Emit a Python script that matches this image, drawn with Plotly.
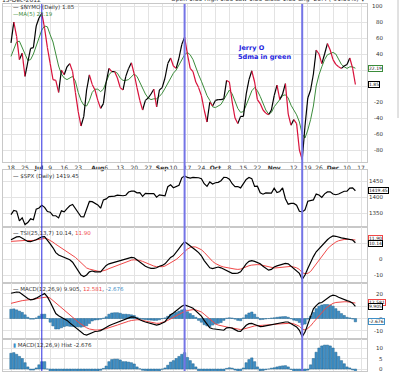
import plotly.graph_objects as go
import pandas as pd

# ---------------- data ----------------
holidays = ["2012-07-04", "2012-09-03", "2012-10-29", "2012-10-30", "2012-11-22"]
days = [d.strftime("%Y-%m-%d") for d in pd.bdate_range("2012-06-18", "2012-12-17")
        if d.strftime("%Y-%m-%d") not in holidays]

nymo = [54, 80, 62, 33, 41, 12, 30, 47, 48, 75, 85, 91, 72, 48, 28, 8, 7, -8, 20, 14,
        24, 28, 18, -8, -32, -50, -38, -5, 14, 2, -5, -18, -28, -22, 5, 22, 18, 18, 10, -2,
        -5, 12, 22, 29, 15, -2, -18, -30, -18, -15, -10, -4, -26, -5, -2, 10, 28, 35, 25, 22,
        35, 52, 61, 40, 22, 18, 5, -2, -12, -30, -45, -20, -25, -18, -17, -17, -16, 7, 5, -20,
        -40, -47, -38, -38, -10, 8, 19, 5, -17, -22, -30, -34, -36, -30, -12, 1, -17, -10, 3, -35,
        -49, -42, -47, -80, -92, -50, -15, -5, 15, 45, 40, 28, 40, 53, 45, 33, 27, 24, 22, 25,
        27, 35, 22.25, 1.85]
nymo_ma5 = [37, 45, 55, 56, 48, 38, 32, 33, 40, 50, 60, 70, 75, 74, 64, 55, 40, 25, 15, 10,
            8, 10, 12, 6, -8, -18, -24, -25, -18, -8, -4, -4, -7, -4, 6, 14, 18, 18, 16, 10,
            7, 7, 8, 12, 15, 12, 4, -4, -10, -15, -17, -16, -16, -13, -9, -3, 3, 10, 16, 20,
            27, 34, 39, 42, 39, 33, 22, 14, 6, -4, -12, -18, -26, -27, -25, -23, -17, -10, -5, -10,
            -20, -28, -33, -32, -24, -14, -6, -2, -6, -13, -22, -30, -35, -33, -26, -22, -17, -12, -11, -15,
            -24, -30, -36, -45, -60, -65, -55, -42, -25, 0, 14, 24, 33, 39, 41, 42, 40, 33, 27, 24,
            22, 24, 24, 22.19]
spx = [1344.78, 1357.98, 1355.69, 1325.51, 1335.02, 1313.72, 1319.99, 1331.85, 1329.04, 1362.16,
       1365.51, 1374.02, 1367.58, 1354.68, 1352.46, 1341.47, 1341.45, 1334.76, 1356.78, 1353.64,
       1363.67, 1372.78, 1376.51, 1362.66, 1350.52, 1338.31, 1337.89, 1360.02, 1385.97, 1385.30,
       1379.32, 1375.32, 1365.00, 1390.99, 1394.23, 1401.35, 1402.22, 1402.80, 1405.87, 1404.11,
       1403.93, 1405.53, 1415.51, 1418.16, 1418.13, 1413.17, 1413.49, 1402.08, 1411.13, 1410.44,
       1409.30, 1410.49, 1399.48, 1406.58, 1404.94, 1403.44, 1432.12, 1437.92, 1429.08, 1433.56,
       1436.56, 1459.99, 1465.77, 1461.19, 1459.32, 1461.05, 1460.26, 1460.15, 1456.89, 1441.59,
       1433.32, 1447.15, 1440.67, 1444.49, 1445.75, 1450.99, 1461.40, 1460.93, 1455.88, 1441.48,
       1432.56, 1432.84, 1428.59, 1440.13, 1454.92, 1460.91, 1457.34, 1433.19, 1433.82, 1413.11,
       1408.75, 1412.97, 1411.94, 1412.16, 1427.59, 1414.20, 1417.26, 1428.39, 1394.53, 1377.51,
       1379.85, 1380.03, 1374.53, 1355.49, 1353.33, 1359.88, 1386.89, 1387.81, 1391.03, 1409.15,
       1406.29, 1398.94, 1409.93, 1415.95, 1416.18, 1409.46, 1407.05, 1409.28, 1413.94, 1418.07,
       1418.55, 1427.84, 1428.48, 1419.45]
tsi = [12, 13, 13.8, 14, 13, 12, 11, 10.8, 11.2, 12, 13, 13.8, 14, 12, 9.5, 7, 4, 2.5, 1.8, 1,
       0.3, -0.5, -2, -4.5, -7.5, -10, -11, -10, -8, -7.5, -8, -8.2, -8, -6, -4, -3, -2.5, -2, -1.2, -0.6,
       -0.3, 0, 0.5, 1, 0.8, -0.5, -2, -3.5, -4.5, -5.3, -5.8, -5.8, -5.5, -4.5, -4, -3, -1, 1, 2, 4,
       6.5, 8.8, 10.8, 9.5, 8.3, 7, 5.5, 4, 2, -1, -3.5, -5.5, -6, -5.5, -5, -5.5, -6.5, -7.5, -8.5, -9,
       -9, -8.8, -8, -5.5, -3, -1.5, -1, -1.5, -2.2, -3, -4.5, -6, -7, -6.5, -5, -4.3, -3.8, -3.3, -2.8, -3,
       -4.5, -5.5, -7, -9, -12.7, -10, -6, -2, 1.5, 4.5, 6.5, 8.5, 10.5, 12, 13.5, 14.4, 14.2, 13.6, 13.2, 12.9,
       12.5, 12.3, 11.9, 10.14]
tsi_signal = [11, 11.2, 11.4, 11.5, 11.6, 11.6, 11.5, 11.5, 11.6, 12, 12.3, 12.6, 12.8, 12.6, 11.8, 10.5, 9.2, 8, 7, 6,
              4.8, 3.6, 2.4, 1, -0.6, -2.4, -4, -5.6, -6.3, -6.8, -7.2, -7.6, -7.8, -7.5, -6.8, -6, -5.3, -4.7, -4, -3.2,
              -2.5, -1.8, -1.2, -0.7, -0.5, -0.5, -0.9, -1.5, -2.3, -3.1, -3.8, -4.4, -4.8, -5, -4.8, -4.4, -3.5, -2.5, -1.5, -0.3,
              1.2, 3, 4.8, 6.2, 7.2, 7.6, 7.5, 6.8, 5.8, 4.2, 2.3, 0.3, -1.5, -2.8, -3.8, -4.5, -5, -5.4, -5.7, -6,
              -6.3, -6.5, -6.3, -5.6, -4.8, -4.2, -3.8, -3.5, -3.5, -3.6, -4, -4.5, -5.1, -5.5, -5.6, -5.5, -5.3, -5, -4.6, -4.4,
              -4.6, -5, -5.5, -6.5, -8.5, -9.2, -9, -7.8, -5.5, -3, -0.5, 2, 4.2, 6.2, 8, 9.5, 10.6, 11.4, 11.9, 12.2,
              12.3, 12.3, 12.2, 11.9]
macd = [20.5, 21, 21.5, 21.3, 19.5, 17.7, 16.3, 15.2, 15.5, 16.5, 17.5, 19, 20.2, 17.5, 13.4, 8.5, 4, 2.3, 1.2, 0,
        -1.5, -3.5, -5.5, -7.5, -9.5, -11.5, -12.8, -13.4, -12.5, -11, -10.5, -10.3, -9.8, -8.5, -6.8, -5.8, -4.8, -4, -3, -2,
        -1.3, -0.5, 0.5, 1.3, 1.2, 0, -1, -2, -2.8, -3.6, -4.3, -5, -5.4, -4.8, -3.5, -2.6, 0.3, 3, 4.5, 6.5,
        8.3, 10, 11, 10.4, 9.3, 8.3, 6, 4, 2, -1.5, -4.5, -7.5, -8.3, -8.7, -9.2, -9.3, -9.5, -7.5, -7.3, -7.8,
        -9, -10.2, -10.5, -8, -5.5, -4.2, -3.9, -4.8, -6, -6.6, -6.3, -5.8, -5.3, -4.8, -4.3, -4, -3.9, -3.3, -2.8, -2.8,
        -4, -5.6, -6.8, -9.5, -14.7, -11, -5, 1.5, 7.8, 10.5, 12.5, 13, 14.8, 16.5, 18, 19, 18.5, 17.3, 16.2, 15.3,
        14.5, 13.8, 12.5, 9.905]
macd_signal = [12.3, 13, 13.5, 14, 14.5, 14.8, 15, 15.3, 15.6, 16, 16.5, 17, 17.5, 17.5, 16.5, 14.5, 12.5, 10.5, 8.5, 6.5,
               4.5, 2.8, 1, -0.8, -2.8, -4.5, -6.2, -7.5, -8.5, -9, -9.3, -9.3, -9.2, -8.8, -8.2, -7.6, -7, -6.2, -5.3, -4.5,
               -3.6, -2.8, -2.2, -1.6, -1.2, -1, -1.1, -1.4, -2, -2.5, -3, -3.5, -3.9, -3.8, -3.4, -2.5, -1.5, -0.3, 1, 2.3,
               3.5, 4.8, 5.8, 6.5, 7, 7.2, 7, 6.3, 5.3, 3.5, 1.5, -0.8, -3, -4.3, -5.3, -6, -6.5, -6.8, -7.3, -7.8,
               -8.3, -8.7, -8.9, -8.6, -7.8, -7, -6.3, -6, -5.8, -5.7, -5.6, -5.5, -5.3, -5, -4.8, -4.5, -4.3, -4, -3.8, -3.7,
               -3.8, -4.3, -5, -6.3, -8.5, -9.3, -8, -6, -3.2, -0.5, 2.5, 5, 7.3, 9.4, 11, 12.3, 13, 13.4, 13.6, 13.6,
               13.6, 13.3, 12.9, 12.581]
macd_hist = [7.5, 7.8, 7, 6, 5, 3, 1, -0.5, -0.5, 0.5, 2, 3.5, 3.5, 0, -3, -6, -8.5, -8.5, -7.5, -6.5,
             -6, -6.3, -6.5, -6.7, -6.7, -7, -6.6, -5.9, -4, -2, -1.2, -1, -0.6, 0.3, 1.4, 3.5, 4.5, 4.7, 4.7, 4.3,
             3.5, 3.5, 3.3, 3, 2.4, 1, 0.1, -0.6, -0.8, -1.1, -1.3, -1.5, -1.5, -1, -0.1, 0.5, 1.8, 3.3, 4, 5,
             6, 7, 7.8, 5.5, 4, 2.5, 1, -1.5, -3, -5, -6, -6.7, -5.3, -4.4, -3.9, -3.3, -1.5, 0.3, 0.6, 0.4,
             -0.5, -1.5, -1.8, 0.5, 3, 4.5, 5.3, 3.5, 1, -0.9, -0.7, -0.3, 0, 0.4, 0.6, 1, 1.3, 1.5, 1.6, 1,
             -0.2, -1.3, -1.8, -3.2, -5.2, -4.5, -0.5, 2, 5, 8, 10, 11, 11.4, 11.4, 11, 10, 8, 6, 4, 2.5,
             1, 0.5, -0.4, -2.676]

tick_days = ["2012-06-18", "2012-06-25", "2012-07-02", "2012-07-09", "2012-07-16", "2012-07-23",
             "2012-08-01", "2012-08-06", "2012-08-13", "2012-08-20", "2012-08-27", "2012-09-04",
             "2012-09-10", "2012-09-17", "2012-09-24", "2012-10-01", "2012-10-08", "2012-10-15",
             "2012-10-22", "2012-11-01", "2012-11-12", "2012-11-19", "2012-11-26", "2012-12-03",
             "2012-12-10", "2012-12-17"]
tick_text = ["18", "25", "<b>Jul</b>", "9", "16", "23", "<b>Aug</b>", "6", "13", "20", "27", "<b>Sep</b>",
             "10", "17", "24", "<b>Oct</b>", "8", "15", "22", "<b>Nov</b>", "12", "19", "26", "<b>Dec</b>",
             "10", "17"]
marked_days = ["2012-07-03", "2012-09-14", "2012-11-15"]

nymo_ticks = [100, 80, 60, 40, 20, 0, -20, -40, -60, -80]
spx_ticks = [1450, 1400, 1350]
tsi_ticks = [10, 0, -10]
macd_ticks = [20, 10, 0, -10]
hist_ticks = [10, 5, 0]
# tick labels the value boxes hide in the reference
hidden_labels = {0: [20, 0], 2: [10], 3: [10]}

# ---------------- geometry helpers ----------------
W, H = 400, 373
MT, MB, ML, MR = 4, 2, 3, 33
PH = H - MT - MB
PW = W - ML - MR


def py(p):  # pixel row -> paper fraction
    return (H - MB - p) / PH


def px(p):  # pixel column -> paper fraction
    return (p - ML) / PW


x = list(range(len(nymo)))
tickvals = [days.index(d) for d in tick_days]

FONT = "Verdana, DejaVu Sans, sans-serif"
RED = "#d8103a"
GREEN = "#3b8c3b"
SIGRED = "#f04848"
BLUE = "#3f8fc6"

fig = go.Figure()

# NYMO colour-coded line (black rising, red falling)
ux, uy, dx, dy = [], [], [], []
for i in range(1, len(nymo)):
    if nymo[i] >= nymo[i - 1]:
        ux += [x[i - 1], x[i], None]
        uy += [nymo[i - 1], nymo[i], None]
    else:
        dx += [x[i - 1], x[i], None]
        dy += [nymo[i - 1], nymo[i], None]
fig.add_trace(go.Scatter(x=x, y=nymo_ma5, mode="lines", line=dict(color=GREEN, width=1), xaxis="x", yaxis="y"))
fig.add_trace(go.Scatter(x=ux, y=uy, mode="lines", line=dict(color="#000000", width=1.2), xaxis="x", yaxis="y"))
fig.add_trace(go.Scatter(x=dx, y=dy, mode="lines", line=dict(color=RED, width=1.2), xaxis="x", yaxis="y"))

fig.add_trace(go.Scatter(x=x, y=spx, mode="lines", line=dict(color="#000000", width=1.2), xaxis="x2", yaxis="y2"))

fig.add_trace(go.Scatter(x=x, y=tsi_signal, mode="lines", line=dict(color=SIGRED, width=1), xaxis="x3", yaxis="y3"))
fig.add_trace(go.Scatter(x=x, y=tsi, mode="lines", line=dict(color="#000000", width=1.2), xaxis="x3", yaxis="y3"))

fig.add_trace(go.Bar(x=x, y=macd_hist, marker=dict(color=BLUE, line=dict(color="#22648f", width=0.5)),
                     xaxis="x4", yaxis="y4"))
fig.add_trace(go.Scatter(x=x, y=macd_signal, mode="lines", line=dict(color=SIGRED, width=1), xaxis="x4", yaxis="y4"))
fig.add_trace(go.Scatter(x=x, y=macd, mode="lines", line=dict(color="#000000", width=1.2), xaxis="x4", yaxis="y4"))

fig.add_trace(go.Bar(x=x, y=macd_hist, marker=dict(color=BLUE, line=dict(color="#22648f", width=0.5)),
                     xaxis="x5", yaxis="y5"))

xr = [(ML - 11) / 2.8, (W - MR - 11) / 2.8]
grid = "#e3e3e3"
frame = "#c8c8c8"
common_x = dict(range=xr, tickvals=tickvals, showgrid=True, gridcolor=grid, gridwidth=1,
                showline=True, linecolor=frame, mirror=True, zeroline=False, ticks="")

domains = [(162, 4), (227, 170), (283, 227), (339, 283), (371, 339)]
yranges = [[-95, 102.5], [1306.25, 1484.4], [-15, 20], [-16.6, 28.8], [-0.95, 14.3]]
ytickss = [nymo_ticks, spx_ticks, tsi_ticks, macd_ticks, hist_ticks]

layout = dict(width=W, height=H, margin=dict(l=ML, r=MR, t=MT, b=MB), paper_bgcolor="white",
              plot_bgcolor="white", showlegend=False, bargap=0.15, font=dict(family=FONT, size=6, color="#333"))
for k in range(5):
    s = "" if k == 0 else str(k + 1)
    xa = dict(common_x, anchor="y" + s, showticklabels=(k == 0))
    if k == 0:
        xa.update(ticktext=tick_text, tickangle=0, tickfont=dict(family=FONT, size=6, color="#333"))
    else:
        xa.update(matches="x")
    layout["xaxis" + s] = xa
    bot, top = domains[k]
    layout["yaxis" + s] = dict(domain=[py(bot), py(top)], range=yranges[k], anchor="x" + s,
                               tickvals=ytickss[k], showticklabels=False, showgrid=True, gridcolor=grid,
                               zeroline=False, showline=True, linecolor=frame, mirror=True, ticks="")
fig.update_layout(**layout)

ann = []
# right-hand axis labels (right aligned)
for k in range(5):
    s = "" if k == 0 else str(k + 1)
    for v in ytickss[k]:
        if v in hidden_labels.get(k, []):
            continue
        ann.append(dict(xref="paper", x=1, xanchor="right", xshift=18, yref="y" + s, y=v, yanchor="middle",
                        text=str(v), showarrow=False, font=dict(size=5.5, color="#333")))


def box(yref, v, txt, col, ys=0):
    ann.append(dict(xref="paper", x=1, xanchor="left", xshift=1, yref=yref, y=v, yanchor="middle", yshift=ys,
                    text=txt, showarrow=False, font=dict(size=4.5, color="#111"), bgcolor="white",
                    bordercolor=col, borderwidth=1, borderpad=0))


box("y", nymo_ma5[-1], "22.19", GREEN)
box("y", nymo[-1], "1.85", "#000")
box("y2", spx[-1], "1419.45", "#000")
box("y3", tsi_signal[-1], "11.90", SIGRED, 1)
box("y3", tsi[-1], "10.14", "#000", -1)
box("y4", macd_signal[-1], "12.581", SIGRED, 0.5)
box("y4", macd[-1], "9.905", "#000", -0.5)
box("y4", macd_hist[-1], "-2.676", BLUE)


def label(p, txt, col="#333", xs=8, size=5.5):
    ann.append(dict(xref="paper", x=0, xanchor="left", xshift=xs, yref="paper", y=py(p), yanchor="middle",
                    text=txt, showarrow=False, font=dict(size=size, color=col)))


label(7, '<span style="color:#000">—</span> $NYMO (Daily) 1.85')
label(14, '—MA(5) 22.19', col=GREEN)
label(176, '<span style="color:#000">—</span> $SPX (Daily) 1419.45')
label(233, '<span style="color:#000">—</span> TSI(25,13,7) 10.14, <span style="color:%s">11.90</span>' % SIGRED)
label(289, '<span style="color:#000">—</span> MACD(12,26,9) 9.905, <span style="color:%s">12.581</span>, '
           '<span style="color:%s">-2.676</span>' % (SIGRED, BLUE))
label(345, '<span style="color:%s">▮</span> MACD(12,26,9) Hist -2.676' % BLUE)

# header (cut at the top of the page)
ann.append(dict(xref="paper", x=0, xanchor="left", xshift=-3, yref="paper", y=1, yanchor="bottom", yshift=-1.5,
                text="13-Dec-2012", showarrow=False, font=dict(size=6, color="#333")))
ann.append(dict(xref="paper", x=1, xanchor="right", yref="paper", y=1, yanchor="bottom", yshift=-1.5,
                text="Open 1.85 High 1.85 Low 1.85 Close 1.85 Chg -20.4 (-91.69%) ▼", showarrow=False,
                font=dict(size=6, color="#333")))

# chart note
ann.append(dict(xref="paper", x=0, xanchor="left", xshift=236 - ML, yref="paper", y=py(47.5), yanchor="middle",
                text="<b>Jerry O</b>", showarrow=False, font=dict(size=6.5, color="#2222dd")))
ann.append(dict(xref="paper", x=0, xanchor="left", xshift=236 - ML, yref="paper", y=py(57), yanchor="middle",
                text="<b>5dma in green</b>", showarrow=False, font=dict(size=6.5, color="#2222dd")))

shapes = []
for j, d in enumerate(marked_days):
    shapes.append(dict(type="line", xref="x", x0=days.index(d), x1=days.index(d), yref="paper", y0=0, y1=1,
                       line=dict(color="#2a2ae0" if j == 0 else "#7474e6", width=1 if j == 0 else 2)))
# thin page-frame line at the right edge of the screenshot
shapes.append(dict(type="line", xref="paper", x0=px(398), x1=px(398), yref="paper", y0=py(118), y1=py(0),
                   line=dict(color="#c4c4c4", width=1)))

fig.update_layout(annotations=ann, shapes=shapes)
fig.write_html("out.html", config={"displayModeBar": False, "staticPlot": True},
               post_script="document.body.style.margin='0';document.body.style.overflow='hidden';")
